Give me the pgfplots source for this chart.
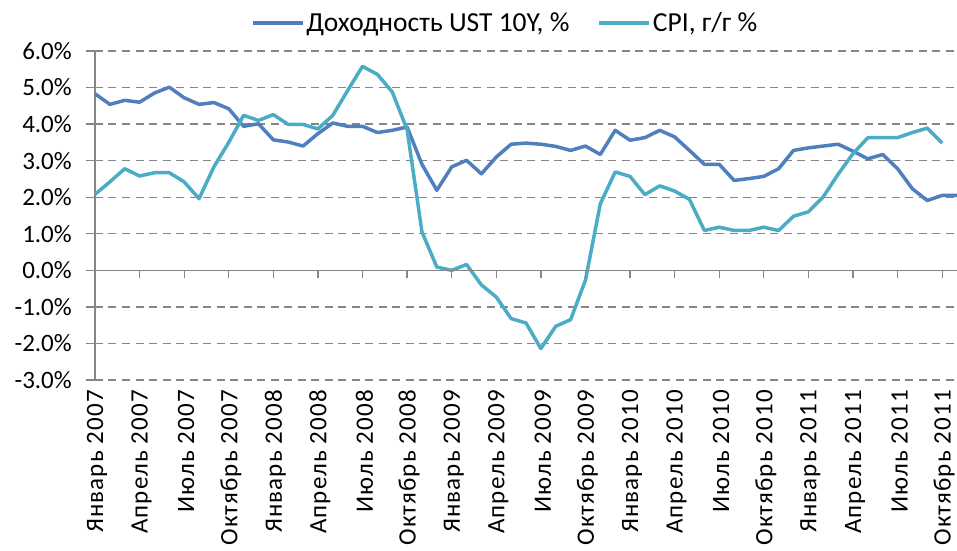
\documentclass[border=0pt]{standalone}
\usepackage{pgfplots}
\pgfplotsset{compat=1.18}
\usepackage{pgfplotstable}
\usepackage{fontspec}
\setmainfont{Carlito}
\newfontfamily\lblfont[LetterSpace=4.5]{Carlito}
\definecolor{ustblue}{HTML}{4F7FBD}
\definecolor{cpicyan}{HTML}{4BACC6}
\definecolor{gridgray}{RGB}{134,134,134}
\pgfplotstableread{
i v
0 4.83
1 4.54
2 4.65
3 4.60
4 4.85
5 5.01
6 4.72
7 4.54
8 4.59
9 4.42
10 3.94
11 4.01
12 3.57
13 3.51
14 3.40
15 3.74
16 4.03
17 3.94
18 3.94
19 3.77
20 3.83
21 3.92
22 2.90
23 2.19
24 2.83
25 3.01
26 2.64
27 3.10
28 3.45
29 3.48
30 3.45
31 3.39
32 3.28
33 3.40
34 3.17
35 3.83
36 3.56
37 3.63
38 3.83
39 3.65
40 3.28
41 2.90
42 2.90
43 2.46
44 2.51
45 2.57
46 2.78
47 3.28
48 3.35
49 3.40
50 3.45
51 3.26
52 3.05
53 3.17
54 2.78
55 2.23
56 1.91
57 2.05
58 2.05
}\ust
\pgfplotstableread{
i v
0 2.08
1 2.42
2 2.78
3 2.58
4 2.67
5 2.67
6 2.42
7 1.96
8 2.83
9 3.50
10 4.24
11 4.10
12 4.26
13 3.99
14 3.99
15 3.87
16 4.24
17 4.92
18 5.58
19 5.36
20 4.88
21 3.85
22 1.05
23 0.09
24 0.00
25 0.16
26 -0.40
27 -0.73
28 -1.32
29 -1.44
30 -2.14
31 -1.53
32 -1.35
33 -0.27
34 1.82
35 2.69
36 2.57
37 2.07
38 2.31
39 2.17
40 1.94
41 1.09
42 1.18
43 1.09
44 1.09
45 1.18
46 1.09
47 1.48
48 1.60
49 2.01
50 2.63
51 3.19
52 3.63
53 3.63
54 3.63
55 3.77
56 3.89
57 3.48
}\cpi
\begin{document}
\begin{tikzpicture}
\useasboundingbox (-95pt,-170pt) rectangle (862pt,380pt);
\begin{axis}[
  at={(0pt,0pt)}, anchor=south west,
  scale only axis, width=862pt, height=329pt,
  xmin=0, xmax=58, ymin=-3, ymax=6,
  clip=false,
  axis x line*=bottom,
  x axis line style={draw=none},
  xtick={0,3,6,9,12,15,18,21,24,27,30,33,36,39,42,45,48,51,54,57},
  xticklabels={Январь 2007,Апрель 2007,Июль 2007,Октябрь 2007,
    Январь 2008,Апрель 2008,Июль 2008,Октябрь 2008,
    Январь 2009,Апрель 2009,Июль 2009,Октябрь 2009,
    Январь 2010,Апрель 2010,Июль 2010,Октябрь 2010,
    Январь 2011,Апрель 2011,Июль 2011,Октябрь 2011},
  xtick style={draw=none},
  xticklabel style={font=\lblfont\fontsize{25}{30}\selectfont, text=black, rotate=90, anchor=east, inner sep=0pt, yshift=-2pt, xshift=-1pt},
  axis y line*=left,
  y axis line style={draw=gridgray, line width=1.3pt},
  ytick={-3,-2,-1,0,1,2,3,4,5,6},
  yticklabels={-3.0\%,-2.0\%,-1.0\%,0.0\%,1.0\%,2.0\%,3.0\%,4.0\%,5.0\%,6.0\%},
  ytick style={draw=gridgray, line width=1.3pt},
  tick align=outside,
  major tick length=9pt,
  ymajorgrids,
  grid style={draw=gridgray, line width=1.4pt, dash pattern=on 8pt off 5.5pt},
  yticklabel style={font=\fontsize{25}{30}\selectfont, text=black, inner sep=2pt, xshift=-12pt},
  legend style={at={(0.177,1.085)}, anchor=west, draw=none, fill=none,
    font=\fontsize{27.5}{32}\selectfont, legend columns=2,
    /tikz/every even column/.append style={column sep=26pt},
    nodes={inner sep=2pt}},
  legend image code/.code={\draw[#1, line width=3.5pt] (0pt,0pt) -- (50pt,0pt);},
  line join=round,
]
\addplot[ustblue, line width=3.5pt, no marks] table[x=i, y=v] {\ust};
\addlegendentry{Доходность UST 10Y, \%}
\addplot[cpicyan, line width=3.5pt, no marks] table[x=i, y=v] {\cpi};
\addlegendentry{CPI, г/г \%}
\draw[gridgray, line width=1.3pt] (axis cs:0,0) -- (axis cs:58,0);
\pgfplotsinvokeforeach{0,3,6,9,12,15,18,21,24,27,30,33,36,39,42,45,48,51,54,57}{
  \draw[gridgray, line width=1.3pt] (axis cs:#1,0) -- ++(0pt,-8pt);
}
\end{axis}
\end{tikzpicture}
\end{document}
